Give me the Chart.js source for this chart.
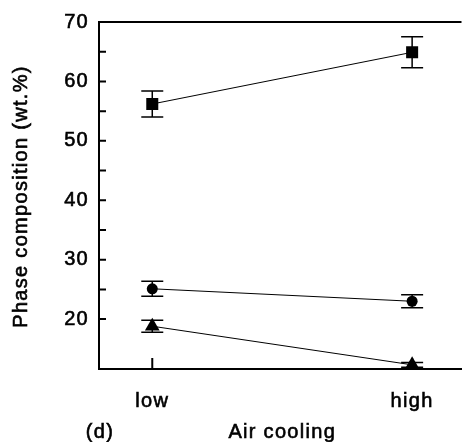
<!DOCTYPE html>
<html>
<head>
<meta charset="utf-8">
<script src="https://cdn.jsdelivr.net/npm/chart.js@4.4.0/dist/chart.umd.min.js"></script>
<style>
  html, body { margin: 0; padding: 0; background: #fff; overflow: hidden; }
  #wrap { width: 470px; height: 442px; }
</style>
</head>
<body>
<div id="wrap"><canvas id="myChart" width="470" height="442"></canvas></div>
<script>
const categories = ['low', 'high'];

// phase fractions (wt.%) and their error bars
const squareValues = [56.2, 64.9];
const squareErrors = [2.2, 2.6];
const circleValues = [25.1, 23.0];
const circleErrors = [1.25, 1.1];
const triangleValues = [18.8, 12.3];
const triangleErrors = [1.0, 0.4];

const yTickLabels = [20, 30, 40, 50, 60, 70];

const FONT = '20px "Liberation Sans", Arial, sans-serif';
const SPACING = '1.3px';
const TEXT_STROKE = 0.6;

function toPoints(values) {
  return values.map((v, i) => ({ x: i, y: v }));
}

function series(values, errors, style, radius) {
  return {
    data: toPoints(values),
    errors: errors,
    pointStyle: style,
    pointRadius: radius,
    pointHoverRadius: radius,
    backgroundColor: '#000',
    borderColor: '#000',
    borderWidth: 1,
    pointBorderWidth: 0,
    showLine: true,
    tension: 0
  };
}

// error bars behind the markers
const errorBars = {
  id: 'errorBars',
  beforeDatasetsDraw(chart) {
    const ctx = chart.ctx;
    const y = chart.scales.y;
    ctx.save();
    ctx.strokeStyle = '#000';
    ctx.lineWidth = 1.5;
    chart.data.datasets.forEach((ds, di) => {
      const meta = chart.getDatasetMeta(di);
      meta.data.forEach((pt, i) => {
        const v = ds.data[i].y, e = ds.errors[i];
        const top = y.getPixelForValue(v + e);
        const bot = y.getPixelForValue(v - e);
        ctx.beginPath();
        ctx.moveTo(pt.x, top); ctx.lineTo(pt.x, bot);
        ctx.moveTo(pt.x - 11, top); ctx.lineTo(pt.x + 11, top);
        ctx.moveTo(pt.x - 11, bot); ctx.lineTo(pt.x + 11, bot);
        ctx.stroke();
      });
    });
    ctx.restore();
  }
};

function heavyText(ctx, text, x, y) {
  ctx.fillText(text, x, y);
  ctx.strokeText(text, x, y);
}

// frame top line, inward ticks, axis titles and panel letter
const frame = {
  id: 'frame',
  beforeDraw(chart) {
    chart.ctx.letterSpacing = SPACING;
  },
  afterDraw(chart) {
    const ctx = chart.ctx;
    const a = chart.chartArea;
    const y = chart.scales.y, x = chart.scales.x;
    ctx.save();
    ctx.strokeStyle = '#000';
    ctx.lineWidth = 2;
    ctx.beginPath();
    ctx.moveTo(a.left - 1, a.top);
    ctx.lineTo(a.right, a.top);
    y.ticks.forEach(t => {
      if (t.value % 5 !== 0 || t.value >= 70) return;
      const py = y.getPixelForValue(t.value);
      ctx.moveTo(a.left, py);
      ctx.lineTo(a.left + 7, py);
    });
    x.ticks.forEach(t => {
      const px = x.getPixelForValue(t.value);
      ctx.moveTo(px, a.bottom);
      ctx.lineTo(px, a.bottom - 11);
    });
    ctx.stroke();

    ctx.fillStyle = '#000';
    ctx.lineWidth = TEXT_STROKE;
    ctx.font = FONT;
    ctx.letterSpacing = SPACING;
    ctx.textAlign = 'center';
    ctx.textBaseline = 'middle';
    heavyText(ctx, '(d)', a.left + 1, 432);
    heavyText(ctx, 'Air cooling', (a.left + a.right) / 2 + 2, 432);
    ctx.translate(21, (a.top + a.bottom) / 2 + 1);
    ctx.rotate(-Math.PI / 2);
    heavyText(ctx, 'Phase composition (wt.%)', 0, 0);
    ctx.restore();
  }
};

Chart.defaults.font.family = '"Liberation Sans", Arial, sans-serif';
Chart.defaults.font.size = 20;
Chart.defaults.color = '#000';

const ctx = document.getElementById('myChart');

new Chart(ctx, {
  type: 'scatter',
  data: {
    datasets: [
      series(squareValues, squareErrors, 'rect', 8.5),
      series(circleValues, circleErrors, 'circle', 5.5),
      series(triangleValues, triangleErrors, 'triangle', 8.5)
    ]
  },
  options: {
    responsive: false,
    animation: false,
    layout: { padding: { top: 21, right: 0, left: 0, bottom: 0 } },
    plugins: {
      legend: { display: false },
      tooltip: { enabled: false }
    },
    scales: {
      x: {
        type: 'linear',
        min: -0.205,
        max: 1.19,
        afterFit(scale) { scale.height = 73; },
        afterBuildTicks(scale) {
          scale.ticks = categories.map((c, i) => ({ value: i }));
        },
        ticks: {
          padding: 20,
          font: { size: 20 },
          textStrokeWidth: TEXT_STROKE,
          textStrokeColor: '#000',
          callback: v => categories[v]
        },
        grid: { display: false, drawTicks: false },
        border: { display: true, color: '#000', width: 2 }
      },
      y: {
        min: 11.6,
        max: 70,
        afterFit(scale) { scale.width = 99; },
        ticks: {
          stepSize: 5,
          padding: 10,
          font: { size: 20 },
          textStrokeWidth: TEXT_STROKE,
          textStrokeColor: '#000',
          callback: v => yTickLabels.includes(v) ? String(v) : ''
        },
        grid: { display: false, drawTicks: false },
        border: { display: true, color: '#000', width: 2 }
      }
    }
  },
  plugins: [errorBars, frame]
});
</script>
</body>
</html>
